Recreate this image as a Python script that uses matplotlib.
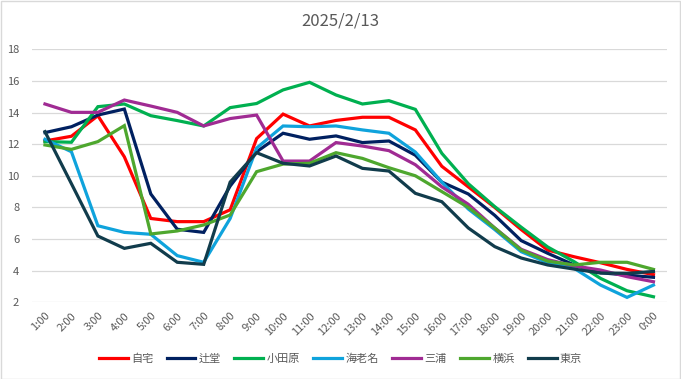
import numpy as np
import matplotlib
matplotlib.use("Agg")
import matplotlib.pyplot as plt
from matplotlib.patches import Rectangle

plt.rcParams['font.family'] = ['Noto Sans CJK JP', 'DejaVu Sans']

hours = ["1:00", "2:00", "3:00", "4:00", "5:00", "6:00", "7:00", "8:00",
         "9:00", "10:00", "11:00", "12:00", "13:00", "14:00", "15:00", "16:00",
         "17:00", "18:00", "19:00", "20:00", "21:00", "22:00", "23:00", "0:00"]

jitaku = [12.2, 12.5, 13.8, 11.2, 7.3, 7.1, 7.1, 7.85, 12.35, 13.9, 13.15, 13.5,
          13.7, 13.7, 12.9, 10.6, 9.3, 8.0, 6.6, 5.3, 4.88, 4.5, 4.08, 3.75]
tsujido = [12.73, 13.1, 13.84, 14.22, 8.85, 6.62, 6.42, 9.35, 11.52, 12.69, 12.31, 12.52,
           12.1, 12.2, 11.3, 9.6, 8.85, 7.5, 5.9, 5.1, 4.36, 3.87, 3.72, 3.58]
odawara = [12.16, 12.12, 14.37, 14.54, 13.8, 13.49, 13.15, 14.31, 14.57, 15.43, 15.91, 15.11,
           14.54, 14.75, 14.2, 11.42, 9.5, 8.05, 6.75, 5.5, 4.57, 3.51, 2.73, 2.35]
ebina = [12.31, 11.52, 6.84, 6.42, 6.3, 4.95, 4.53, 7.3, 11.75, 13.15, 13.1, 13.15,
         12.9, 12.69, 11.5, 9.6, 7.9, 6.6, 5.2, 4.5, 4.15, 3.09, 2.31, 3.09]
miura = [14.54, 14.01, 14.01, 14.79, 14.41, 14.01, 13.15, 13.62, 13.84, 10.93, 10.93, 12.1,
         11.88, 11.59, 10.7, 9.3, 8.2, 6.7, 5.35, 4.7, 4.3, 4.04, 3.62, 3.3]
yokohama = [11.95, 11.67, 12.16, 13.17, 6.32, 6.51, 6.89, 7.52, 10.26, 10.74, 10.79, 11.46,
            11.1, 10.51, 10.0, 9.0, 8.0, 6.7, 5.3, 4.6, 4.36, 4.53, 4.53, 4.08]
tokyo = [12.79, 9.5, 6.19, 5.41, 5.73, 4.53, 4.4, 9.6, 11.46, 10.79, 10.62, 11.25,
         10.47, 10.3, 8.89, 8.36, 6.7, 5.52, 4.8, 4.36, 4.1, 3.85, 3.83, 3.95]

names = ["自宅", "辻堂", "小田原", "海老名", "三浦", "横浜", "東京"]
series = [jitaku, tsujido, odawara, ebina, miura, yokohama, tokyo]
colors = ["#FF0000", "#002060", "#00B050", "#0FA3DC", "#A02B93", "#4EA72E", "#113C4C"]

fig = plt.figure(figsize=(6.81, 3.79), dpi=100)
ax = fig.add_axes([0.0466, 0.2024, 0.9324, 0.6676])

x = np.arange(len(hours))
for name, vals, c in zip(names, series, colors):
    ax.plot(x, vals, color=c, lw=2.3, label=name, solid_joinstyle='miter')

ax.set_xlim(-0.5, len(hours) - 0.5)
ax.set_ylim(2, 18)
ax.set_yticks(np.arange(2, 19, 2))
ax.yaxis.grid(True, color="#D9D9D9", lw=0.9)
ax.set_axisbelow(True)
for s in ax.spines.values():
    s.set_visible(False)
ax.tick_params(axis='both', length=0, colors="#595959", labelsize=8)
ax.tick_params(axis='y', pad=9)
ax.set_xticks(x)
ax.set_xticklabels(hours, rotation=45, ha='right', rotation_mode='anchor')
ax.tick_params(axis='x', pad=6)

fig.text(0.5, 0.945, "2025/2/13", ha='center', va='center', fontsize=12, color="#595959")

leg = fig.legend(loc='center', bbox_to_anchor=(0.5, 0.053), ncol=7, frameon=False,
                 fontsize=8, handlelength=2.6, columnspacing=1.2, handletextpad=0.3)
for t in leg.get_texts():
    t.set_color("#595959")

fig.patches.append(Rectangle((0.001, 0.001), 0.997, 0.997, transform=fig.transFigure,
                             fill=False, edgecolor="#D9D9D9", lw=1))

fig.savefig("out.png", dpi=100)
